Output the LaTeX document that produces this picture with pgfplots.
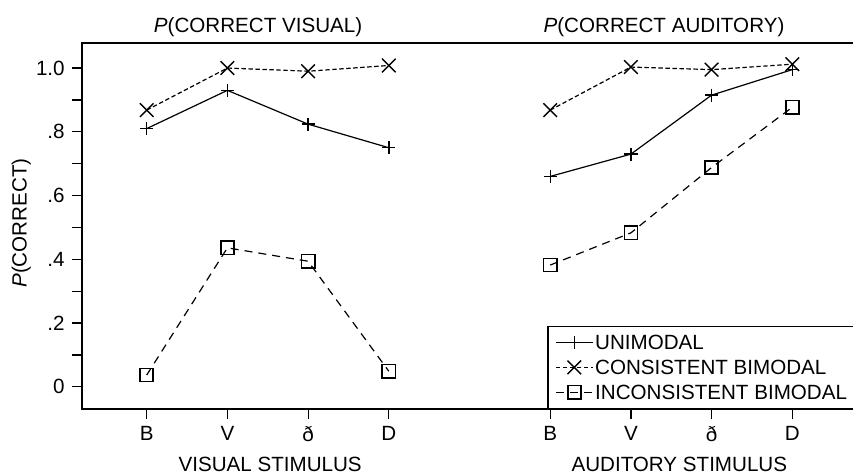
\documentclass[border=0pt]{standalone}
\usepackage{pgfplots}
\pgfplotsset{compat=1.18}
\usepackage{fontspec}
\setmainfont{Liberation Sans}
\begin{document}
\begin{tikzpicture}
\begin{axis}[
  scale only axis, width=387.15pt, height=183.15pt,
  xmin=-0.805, xmax=8.79, ymin=-0.07, ymax=1.079,
  xtick={0,1,2,3,5,6,7,8}, xticklabels={B,V,ð,D,B,V,ð,D},
  ytick={0,0.2,0.4,0.6,0.8,1.0}, yticklabels={0,.2,.4,.6,.8,1.0},
  minor ytick={0.1,0.3,0.5,0.7,0.9},
  tick pos=left, tick align=outside, major tick length=5pt, minor tick length=5pt,
  every tick/.style={black, line width=0.6pt},
  axis line style={line width=0.9pt},
  font=\fontsize{10.3}{12}\selectfont,
  ticklabel style={font=\fontsize{10.3}{12}\selectfont},
  unbounded coords=jump,
  clip=false,
  legend cell align=left,
  legend image code/.code={\draw[mark repeat=2, mark phase=2,#1] plot coordinates {(0pt,0pt)(9.15pt,0pt)(18.3pt,0pt)};},
  legend style={at={(0.601,0)}, anchor=south west, draw=black, line width=0.7pt,
    font=\fontsize{10.3}{12}\selectfont, inner xsep=3.8pt, inner ysep=3.5pt,
    row sep=3.1pt, nodes={inner sep=1pt, text height=7.3pt, text depth=0pt},
    /tikz/every even column/.append style={column sep=4.5pt}},
]
\addplot[black, line width=0.6pt, mark=+, mark size=3.3pt, mark options={solid, line width=0.7pt}]
  coordinates {(0,0.81)(1,0.93)(2,0.824)(3,0.75)(4,nan)(5,0.66)(6,0.73)(7,0.915)(8,0.995)};
\addplot[black, line width=0.6pt, dash pattern=on 2.2pt off 1.3pt, mark=x, mark size=4.8pt, mark options={solid, line width=0.7pt}]
  coordinates {(0,0.868)(1,1.0)(2,0.99)(3,1.008)(4,nan)(5,0.868)(6,1.003)(7,0.995)(8,1.012)};
\addplot[black, line width=0.6pt, dash pattern=on 4pt off 3pt, mark=square, mark size=3.3pt, mark options={solid, line width=0.8pt}]
  coordinates {(0,0.037)(1,0.436)(2,0.394)(3,0.049)(4,nan)(5,0.382)(6,0.483)(7,0.688)(8,0.877)};
\legend{UNIMODAL, CONSISTENT BIMODAL, INCONSISTENT BIMODAL}
\node[anchor=base] at (axis cs:1.38,1.1108) {\textit{P}(CORRECT VISUAL)};
\node[anchor=base] at (axis cs:6.41,1.1108) {\textit{P}(CORRECT AUDITORY)};
\node[anchor=base] at (axis cs:1.53,-0.2667) {VISUAL STIMULUS};
\node[anchor=base] at (axis cs:6.6,-0.2667) {AUDITORY STIMULUS};
\node[rotate=90, anchor=base] at (axis cs:-1.489,0.514) {\textit{P}(CORRECT)};
\coordinate (bbsw) at (axis cs:-1.8178,-0.2708);
\coordinate (bbne) at (axis cs:8.752,1.2134);
\end{axis}
\pgfresetboundingbox
\path (bbsw) rectangle (bbne);
\end{tikzpicture}
\end{document}
